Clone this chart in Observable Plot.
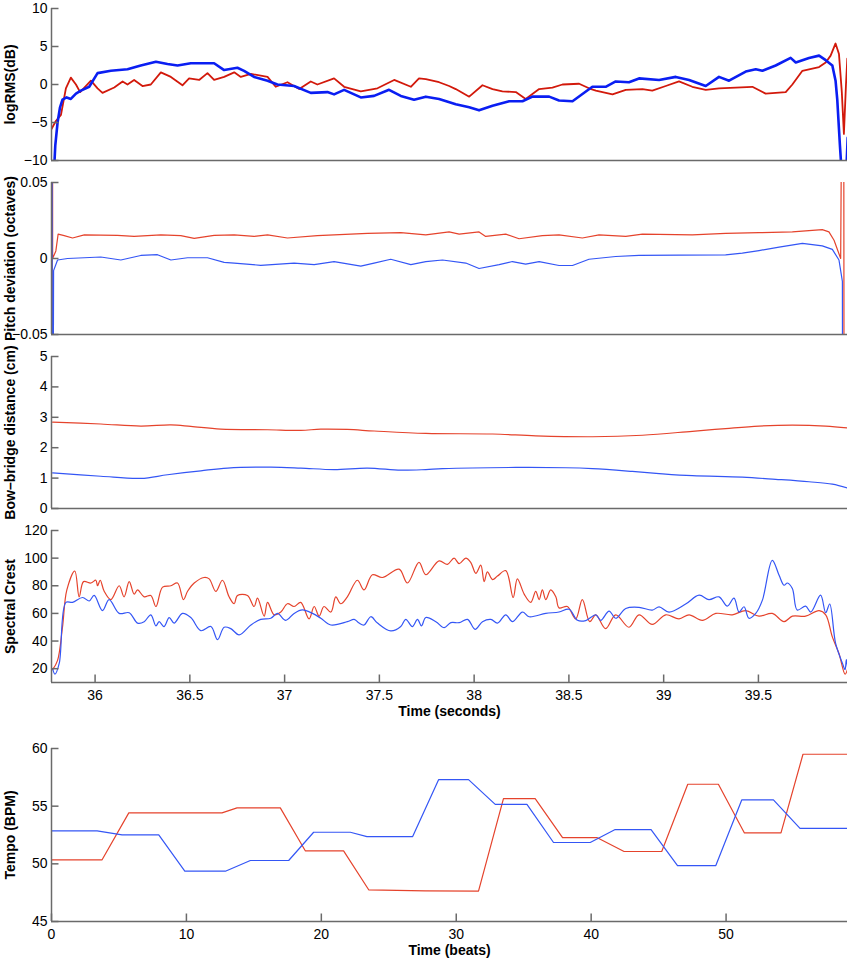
<!DOCTYPE html>
<html><head><meta charset="utf-8">
<script src="https://cdn.jsdelivr.net/npm/d3@7"></script>
<script src="https://cdn.jsdelivr.net/npm/@observablehq/plot@0.6"></script>
<style>
body{margin:0;background:#fff;}
#chart{width:850px;}
#chart svg{display:block;overflow:visible;}
</style></head><body><div id="chart"></div>
<script>
// ---- axes ----
const timeDomain = [35.77, 39.97];
const timeTicks = [36, 36.5, 37, 37.5, 38, 38.5, 39, 39.5];
const beatDomain = [0, 59];
const beatTicks = [0, 10, 20, 30, 40, 50];
const rmsDomain = [-10, 10], rmsTicks = [-10, -5, 0, 5, 10];
const pitchDomain = [-0.05, 0.05], pitchTicks = [-0.05, 0, 0.05];
const bowDomain = [0, 5], bowTicks = [0, 1, 2, 3, 4, 5];
const crestDomain = [10, 120], crestTicks = [20, 40, 60, 80, 100, 120];
const tempoDomain = [45, 60], tempoTicks = [45, 50, 55, 60];
const labels = ["logRMS(dB)", "Pitch deviation (octaves)", "Bow\u2013bridge distance (cm)", "Spectral Crest", "Tempo (BPM)"];
const xTitles = ["Time (seconds)", "Time (beats)"];

// ---- series: [time (s), value] ----
const rmsRed = [[35.767,-6],[35.793,-4.8],[35.820,-4],[35.846,-0.5],[35.872,0.9],[35.899,0.0],[35.921,-1.0],[35.951,-0.2],[35.978,0.5],[36.013,-0.5],[36.039,-1.1],[36.101,-0.4],[36.145,0.4],[36.171,0.0],[36.206,0.6],[36.250,-0.2],[36.294,0.0],[36.347,1.6],[36.400,1.0],[36.461,-0.1],[36.496,0.8],[36.549,0.6],[36.593,1.5],[36.628,0.6],[36.681,1.0],[36.734,1.6],[36.769,1.0],[36.822,1.4],[36.910,1.0],[36.953,-0.3],[37.015,0.3],[37.077,-0.6],[37.138,0.4],[37.173,0.0],[37.261,0.8],[37.314,-0.3],[37.402,-0.9],[37.490,-0.5],[37.578,0.6],[37.666,-0.3],[37.709,0.8],[37.745,0.7],[37.815,0.3],[37.868,-0.2],[37.903,-0.6],[37.974,-1.6],[38.044,-0.1],[38.097,-0.6],[38.149,-0.9],[38.220,-1.0],[38.272,-1.9],[38.343,-0.6],[38.413,-0.4],[38.466,0.0],[38.554,0.1],[38.606,-0.5],[38.642,-0.8],[38.730,-1.3],[38.800,-0.7],[38.888,-0.6],[38.940,-0.8],[39.011,-0.2],[39.081,0.4],[39.151,-0.3],[39.222,-0.7],[39.292,-0.5],[39.380,-0.4],[39.468,-0.3],[39.538,-1.2],[39.644,-1.0],[39.679,0.0],[39.732,1.8],[39.767,2.0],[39.820,2.3],[39.855,2.9],[39.881,3.8],[39.907,5.4],[39.925,4.0],[39.940,-1],[39.951,-6.5],[39.962,0],[39.969,3.4]];
const rmsBlue = [[35.780,-13],[35.790,-8],[35.802,-5],[35.815,-3],[35.828,-2],[35.850,-1.7],[35.872,-1.9],[35.899,-1.2],[35.925,-0.8],[35.969,-0.3],[36.013,1.5],[36.083,1.8],[36.171,2.0],[36.241,2.5],[36.321,3.0],[36.382,2.7],[36.435,2.5],[36.505,2.8],[36.628,2.8],[36.681,1.9],[36.751,2.2],[36.786,1.8],[36.839,1.0],[36.910,0.5],[36.962,0.0],[37.050,-0.2],[37.138,-1.1],[37.226,-1.0],[37.261,-1.3],[37.314,-0.7],[37.402,-1.7],[37.472,-1.5],[37.551,-0.7],[37.613,-1.5],[37.683,-2.0],[37.745,-1.6],[37.815,-1.9],[37.903,-2.6],[37.974,-3.0],[38.026,-3.4],[38.097,-2.8],[38.185,-2.2],[38.255,-2.2],[38.308,-1.6],[38.396,-1.6],[38.448,-2.1],[38.519,-2.2],[38.624,-0.3],[38.694,-0.3],[38.747,0.4],[38.817,0.3],[38.870,0.8],[38.976,0.6],[39.064,1.0],[39.134,0.6],[39.222,-0.2],[39.292,1.0],[39.345,0.5],[39.433,1.7],[39.486,2.0],[39.521,1.8],[39.591,2.5],[39.670,3.5],[39.697,2.9],[39.767,3.5],[39.820,3.8],[39.855,3.2],[39.890,2.5],[39.907,0.5],[39.916,-2],[39.930,-8],[39.943,-13],[39.960,-13],[39.966,-10],[39.971,-7]];

const pitchRed = [[35.772,-0.3],[35.775,0.3],[35.776,0],[35.793,0.005],[35.805,0.016],[35.837,0.015],[35.881,0.0135],[35.943,0.0155],[36.118,0.0152],[36.206,0.0145],[36.347,0.0155],[36.452,0.015],[36.523,0.0132],[36.628,0.0152],[36.734,0.0155],[36.839,0.0145],[36.910,0.0155],[37.015,0.0135],[37.173,0.015],[37.349,0.016],[37.437,0.0165],[37.613,0.017],[37.745,0.0155],[37.868,0.0175],[37.921,0.016],[38.026,0.0175],[38.061,0.0145],[38.167,0.016],[38.237,0.013],[38.360,0.015],[38.448,0.0155],[38.571,0.0135],[38.659,0.0155],[38.800,0.0145],[38.888,0.016],[39.151,0.0155],[39.327,0.0165],[39.503,0.017],[39.679,0.0175],[39.837,0.019],[39.872,0.0175],[39.899,0.012],[39.934,0.0],[39.949,0.3],[39.953,-0.3]];
const pitchBlue = [[35.772,0.3],[35.775,-0.3],[35.781,-0.008],[35.802,-0.001],[35.855,0.0],[36.030,0.001],[36.136,-0.001],[36.241,0.002],[36.329,0.0025],[36.400,-0.001],[36.488,0.0005],[36.593,0.0005],[36.681,-0.0025],[36.734,-0.003],[36.874,-0.0045],[37.050,-0.003],[37.156,-0.004],[37.261,-0.002],[37.402,-0.005],[37.472,-0.003],[37.560,-0.0005],[37.666,-0.004],[37.745,-0.002],[37.833,-0.001],[37.956,-0.003],[38.026,-0.0066],[38.132,-0.004],[38.202,-0.002],[38.272,-0.0037],[38.343,-0.002],[38.448,-0.0046],[38.519,-0.0046],[38.606,-0.0005],[38.747,0.0013],[38.870,0.002],[39.081,0.0022],[39.327,0.0024],[39.415,0.0035],[39.503,0.0052],[39.609,0.0075],[39.732,0.010],[39.837,0.0083],[39.890,0.006],[39.925,-0.001],[39.943,-0.015],[39.946,-0.3]];

const bowRed = [[35.776,2.84],[36.030,2.78],[36.241,2.71],[36.400,2.75],[36.505,2.70],[36.663,2.61],[36.910,2.59],[37.085,2.57],[37.191,2.61],[37.331,2.60],[37.472,2.55],[37.745,2.47],[38.097,2.45],[38.325,2.39],[38.624,2.36],[38.888,2.41],[39.151,2.54],[39.327,2.63],[39.503,2.71],[39.679,2.74],[39.855,2.71],[39.971,2.65]];
const bowBlue = [[35.776,1.17],[36.030,1.06],[36.241,0.99],[36.382,1.11],[36.558,1.24],[36.699,1.33],[36.927,1.36],[37.085,1.33],[37.261,1.28],[37.437,1.33],[37.613,1.26],[37.745,1.28],[37.833,1.31],[38.220,1.35],[38.483,1.34],[38.624,1.31],[38.835,1.22],[38.976,1.15],[39.151,1.08],[39.415,1.03],[39.591,0.96],[39.767,0.88],[39.890,0.80],[39.971,0.67]];

const crestRed = [[35.776,19.3],[35.802,26],[35.828,50],[35.851,77],[35.893,90.7],[35.916,72],[35.939,83],[35.978,82],[36.004,84],[36.013,80],[36.027,84],[36.048,76],[36.083,70],[36.127,80],[36.153,72],[36.180,83],[36.206,74],[36.224,77],[36.259,72],[36.294,73],[36.321,65],[36.356,79],[36.400,80],[36.435,82],[36.466,70],[36.488,76],[36.523,82],[36.575,86],[36.602,85],[36.637,76],[36.672,84],[36.707,72],[36.734,67],[36.751,73],[36.804,73],[36.839,65],[36.857,71],[36.892,58],[36.910,68],[36.945,59],[36.980,61],[37.015,67],[37.050,65],[37.085,68],[37.129,56],[37.156,65],[37.182,58],[37.208,65],[37.244,61],[37.270,72],[37.296,67],[37.331,72],[37.384,84],[37.419,77],[37.463,88],[37.516,86],[37.604,92],[37.648,82],[37.709,97],[37.745,88],[37.815,98],[37.859,95.5],[37.894,100],[37.921,96],[37.956,100],[37.982,97],[38.009,89],[38.035,95],[38.053,83],[38.070,90],[38.097,84.5],[38.123,87],[38.167,91],[38.206,71.5],[38.228,85],[38.264,74],[38.299,68],[38.325,76],[38.343,70],[38.360,77],[38.378,70],[38.404,77],[38.431,72],[38.448,64],[38.492,65],[38.536,56],[38.571,70],[38.610,54],[38.642,59],[38.694,49],[38.747,59],[38.817,50],[38.870,59],[38.940,52],[39.011,59],[39.081,56],[39.134,59],[39.204,55],[39.275,60],[39.362,59],[39.433,62],[39.503,58],[39.573,60],[39.635,54],[39.679,58],[39.749,58],[39.820,62],[39.855,59],[39.890,43],[39.925,31],[39.957,16],[39.971,20]];
const crestBlue = [[35.776,20],[35.788,16],[35.811,24],[35.846,68],[35.881,68],[35.934,71.5],[35.969,69],[35.995,73],[36.039,62],[36.074,70],[36.127,60],[36.180,60.5],[36.224,53],[36.259,54],[36.294,59],[36.321,51],[36.338,54],[36.364,50.5],[36.391,57],[36.417,53],[36.461,60],[36.505,57],[36.558,47.5],[36.611,50.5],[36.646,41],[36.681,50],[36.716,49],[36.760,44.5],[36.822,51.6],[36.874,55.7],[36.927,56.5],[36.962,60],[37.006,55],[37.050,60],[37.094,62.5],[37.147,60],[37.191,56.5],[37.244,51.6],[37.331,54],[37.367,55.7],[37.393,53],[37.419,51.6],[37.455,57.6],[37.490,53],[37.560,47.3],[37.613,50.5],[37.639,55.7],[37.674,50.5],[37.701,55.7],[37.722,51],[37.745,57],[37.798,54],[37.842,49.7],[37.877,53.3],[37.921,53.3],[37.965,55.7],[38.005,48.5],[38.044,54],[38.088,55.7],[38.123,53],[38.167,59],[38.202,54],[38.255,61],[38.290,57.6],[38.378,60],[38.448,61],[38.501,63],[38.545,55],[38.589,54.8],[38.642,59],[38.668,55],[38.712,61.7],[38.747,56.5],[38.800,63.6],[38.870,64.4],[38.940,62.4],[38.976,64.8],[39.028,61],[39.116,66.8],[39.187,73.2],[39.239,70],[39.292,72],[39.336,65.3],[39.371,71],[39.398,61],[39.424,64.8],[39.450,56.5],[39.486,60],[39.521,69.6],[39.573,98.4],[39.609,87.6],[39.635,80.4],[39.653,82],[39.679,78],[39.705,62.4],[39.749,65.3],[39.776,61],[39.828,73.2],[39.855,60.5],[39.876,66.8],[39.907,38.5],[39.943,24],[39.957,19.3],[39.964,26.5],[39.971,20.5]];

// ---- tempo: [beat, BPM] ----
const tempoRed = [[0,50.35],[3.75,50.35],[5.73,54.42],[12.64,54.42],[13.75,54.85],[16.96,54.85],[18.81,51.13],[21.65,51.13],[23.51,47.75],[27.7,47.65],[31.65,47.63],[33.5,55.66],[35.85,55.66],[37.88,52.28],[40.42,52.28],[42.44,51.07],[45.23,51.07],[47.16,56.9],[49.43,56.9],[51.36,52.68],[54.07,52.68],[55.7,59.5],[59,59.5]];
const tempoBlue = [[0,52.86],[3.38,52.86],[5.23,52.51],[7.95,52.51],[9.88,49.36],[12.89,49.36],[14.74,50.29],[17.58,50.29],[19.43,52.74],[22.15,52.74],[23.38,52.36],[26.77,52.36],[28.69,57.3],[30.91,57.3],[32.89,55.16],[35.24,55.16],[37.21,51.85],[39.93,51.85],[41.78,52.97],[44.44,52.97],[46.4,49.85],[49.24,49.85],[51.16,55.54],[53.51,55.54],[55.48,53.08],[59,53.08]];

// ---- styles ----
const axisColor = "#6a6a6a";
const red = "#e5432c", blue = "#3456f5";
const rmsRedColor = "#d2190b", rmsBlueColor = "#0a1ef2";
const font = "'Liberation Sans', Arial, Helvetica, sans-serif";
const fmt = d => (d < 0 ? "\u2212" : "") + Math.abs(d);

function panel({height, marginTop, marginBottom, xDomain, xTicks, xTitle, yDomain, yTicks, yLabel, series}) {
  const marks = [];
  for (const s of series) {
    marks.push(Plot.line(s.data, {x: d => d[0], y: d => d[1], stroke: s.color, strokeWidth: s.width, curve: s.curve || "linear", clip: true}));
  }
  marks.push(Plot.ruleX([xDomain[0]], {stroke: axisColor, strokeWidth: 1.5}));
  marks.push(Plot.ruleY([yDomain[0]], {stroke: axisColor, strokeWidth: 1.5}));
  marks.push(Plot.axisY(yTicks, {anchor: "left", tickSize: -7.5, tickPadding: 11.5, stroke: axisColor, strokeWidth: 1.5, fill: "black", tickFormat: fmt, label: null, fontSize: 14}));
  marks.push(Plot.text([yLabel], {text: d => d, frameAnchor: "left", dx: -40.5, rotate: -90, textAnchor: "middle", lineAnchor: "middle", fontWeight: "bold", fontSize: 14, fill: "black"}));
  if (xTicks) {
    marks.push(Plot.axisX(xTicks, {anchor: "bottom", tickSize: -7.5, tickPadding: 15.5, stroke: axisColor, strokeWidth: 1.5, fill: "black", tickFormat: fmt, label: null, fontSize: 14}));
    marks.push(Plot.text([xTitle], {text: d => d, frameAnchor: "bottom", dy: 33, lineAnchor: "bottom", textAnchor: "middle", fontWeight: "bold", fontSize: 14, fill: "black"}));
  }
  return Plot.plot({
    width: 850, height, marginLeft: 51, marginRight: 3, marginTop, marginBottom,
    x: {domain: xDomain, axis: null},
    y: {domain: yDomain, axis: null},
    style: {fontFamily: font, fontSize: "14px", overflow: "visible", background: "transparent"},
    marks
  });
}

const chart = document.getElementById("chart");
chart.append(panel({height: 174, marginTop: 8, marginBottom: 14, xDomain: timeDomain, yDomain: rmsDomain, yTicks: rmsTicks, yLabel: labels[0],
  series: [{data: rmsRed, color: rmsRedColor, width: 1.8}, {data: rmsBlue, color: rmsBlueColor, width: 2.6}]}));
chart.append(panel({height: 174, marginTop: 8, marginBottom: 14, xDomain: timeDomain, yDomain: pitchDomain, yTicks: pitchTicks, yLabel: labels[1],
  series: [{data: pitchRed, color: red, width: 1.2}, {data: pitchBlue, color: blue, width: 1.2}]}));
chart.append(panel({height: 174, marginTop: 8, marginBottom: 14, xDomain: timeDomain, yDomain: bowDomain, yTicks: bowTicks, yLabel: labels[2],
  series: [{data: bowRed, color: red, width: 1.2, curve: "catmull-rom"}, {data: bowBlue, color: blue, width: 1.2, curve: "catmull-rom"}]}));
chart.append(panel({height: 205, marginTop: 8, marginBottom: 45, xDomain: timeDomain, xTicks: timeTicks, xTitle: xTitles[0], yDomain: crestDomain, yTicks: crestTicks, yLabel: labels[3],
  series: [{data: crestRed, color: red, width: 1.2, curve: "catmull-rom"}, {data: crestBlue, color: blue, width: 1.2, curve: "catmull-rom"}]}));
chart.append(panel({height: 235, marginTop: 21, marginBottom: 41, xDomain: beatDomain, xTicks: beatTicks, xTitle: xTitles[1], yDomain: tempoDomain, yTicks: tempoTicks, yLabel: labels[4],
  series: [{data: tempoRed, color: red, width: 1.2}, {data: tempoBlue, color: blue, width: 1.2}]}));
</script></body></html>
